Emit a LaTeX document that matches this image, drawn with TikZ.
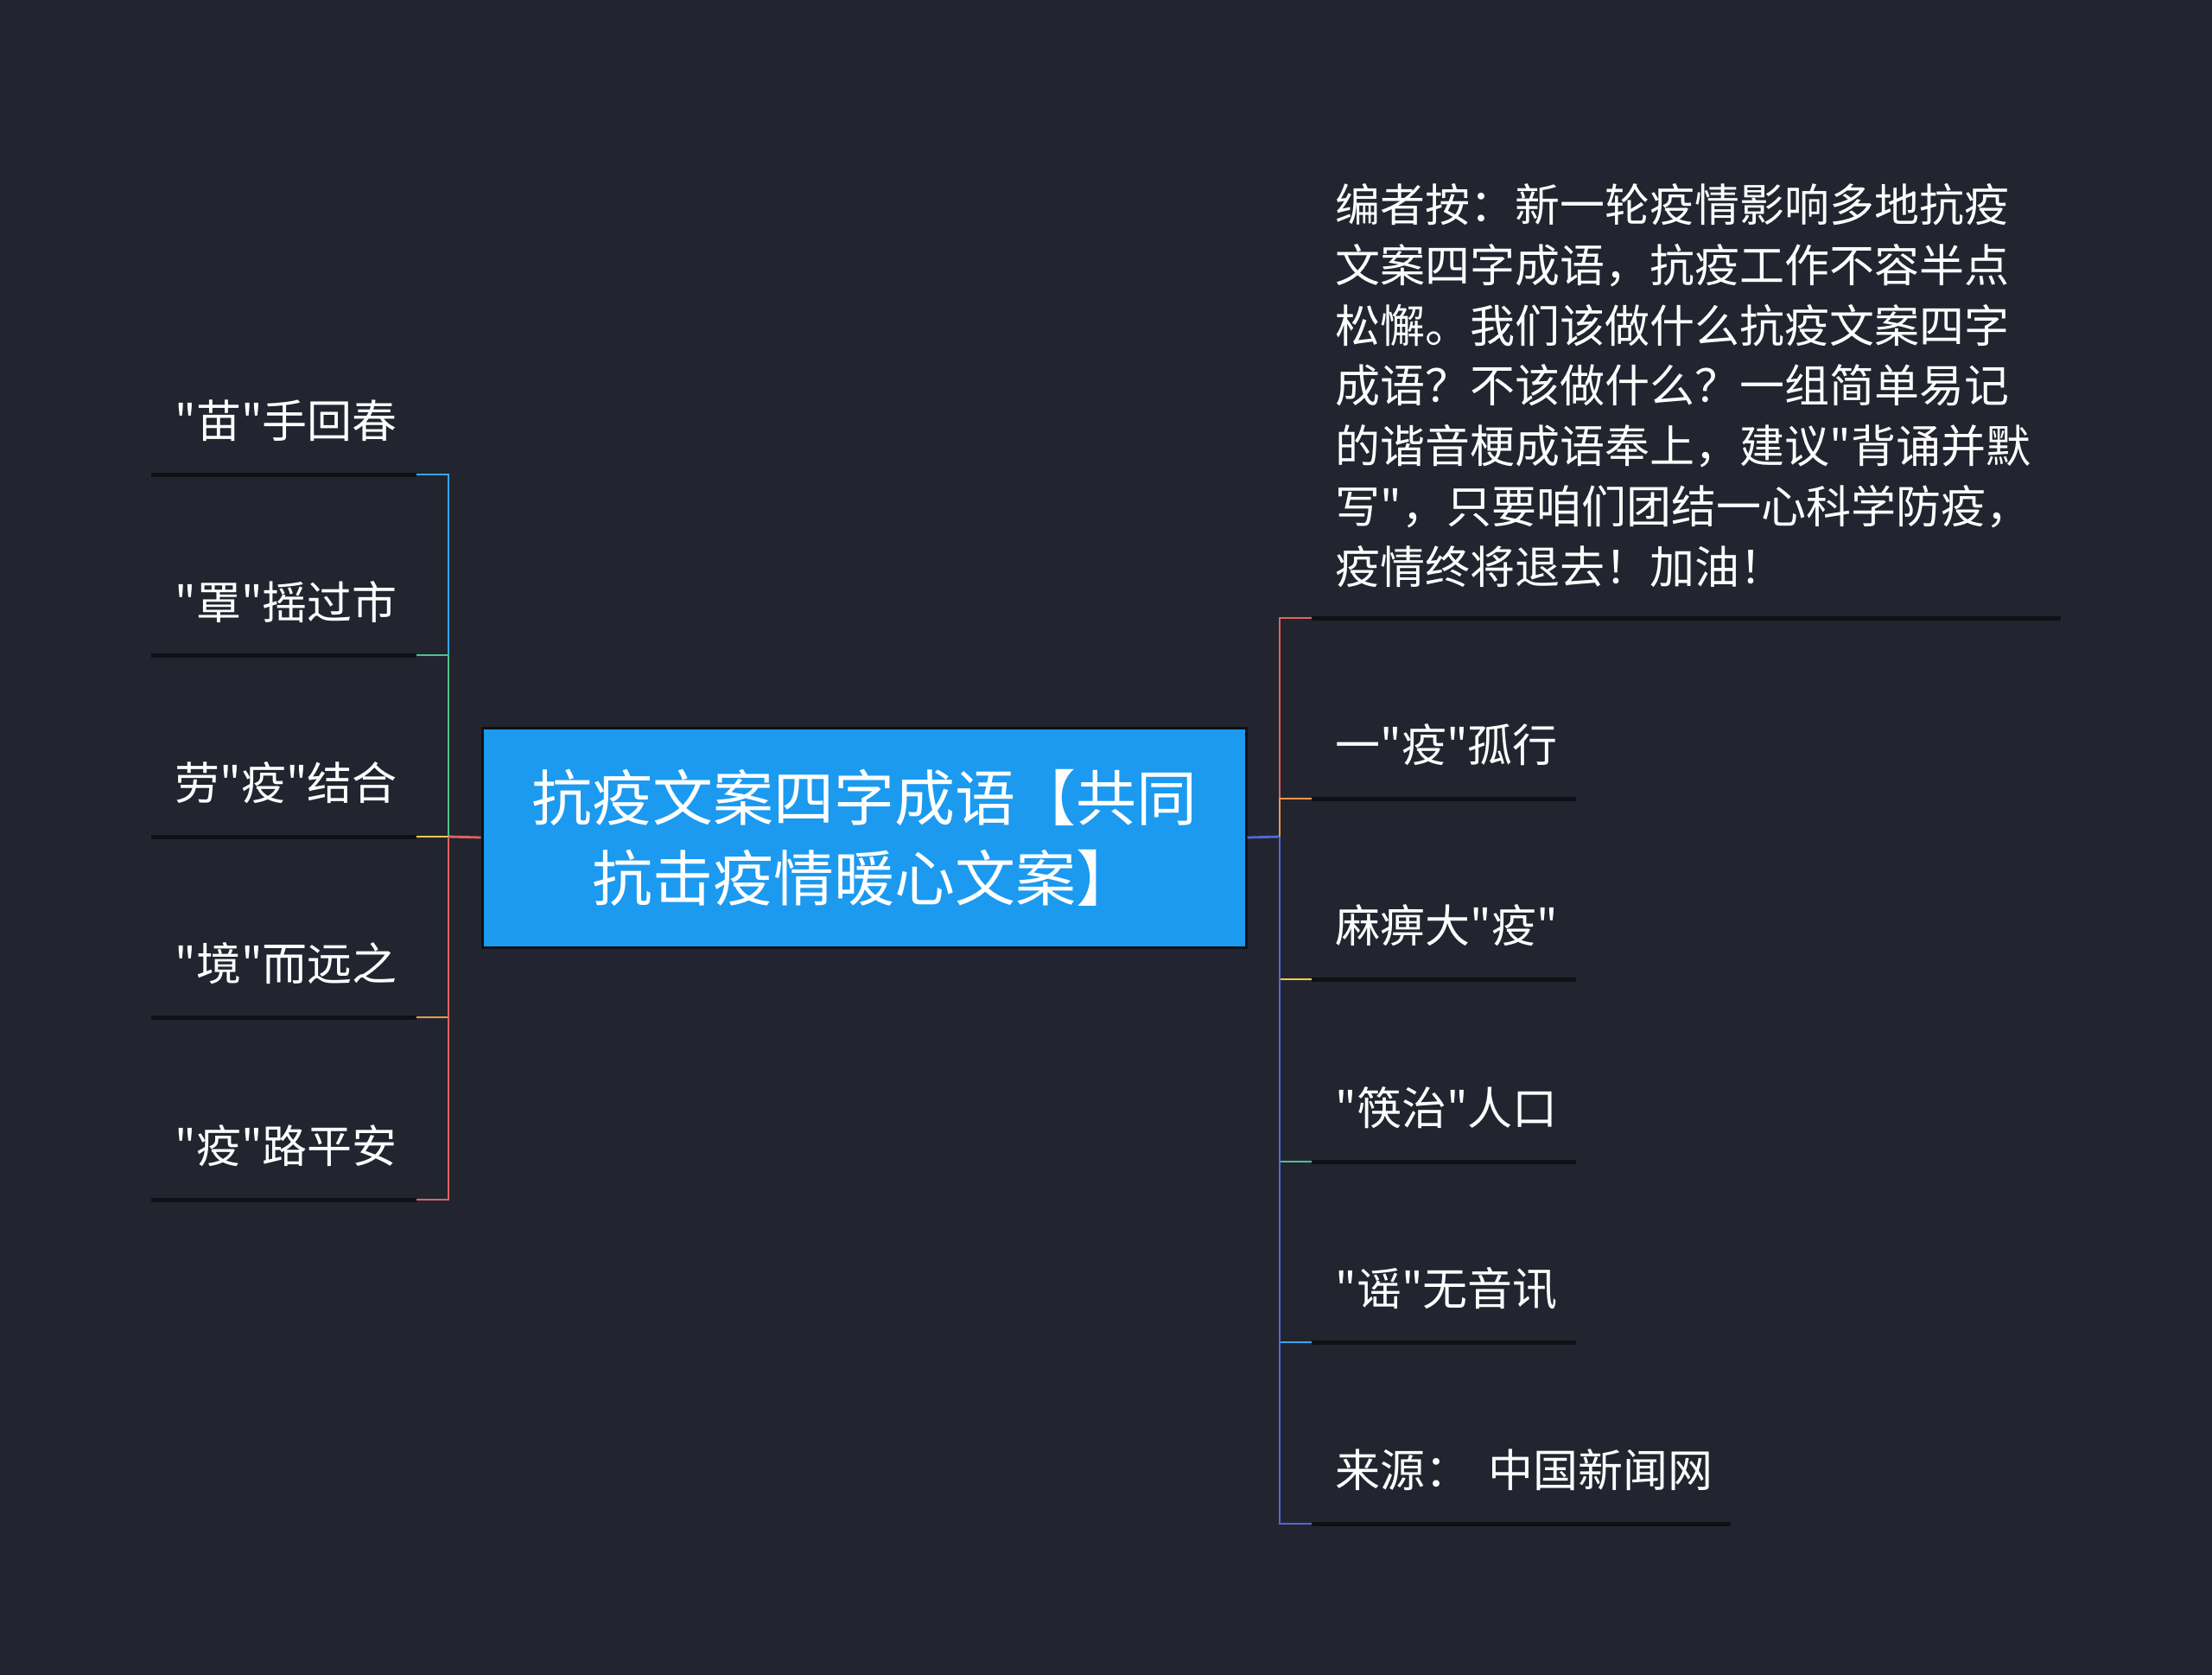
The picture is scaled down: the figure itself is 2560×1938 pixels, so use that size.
\documentclass[tikz,border=0pt]{standalone}
\usepackage{fontspec}
\newfontfamily\cjk{Noto Sans CJK SC}
\definecolor{bg}{HTML}{22252F}
\definecolor{ulc}{HTML}{101114}
\definecolor{rootfill}{HTML}{1B9AF0}
\definecolor{rootline}{HTML}{0E1116}
\definecolor{cRed}{HTML}{E4615F}
\definecolor{cOrange}{HTML}{F0984D}
\definecolor{cYellow}{HTML}{F2C94C}
\definecolor{cGreen}{HTML}{4FC28B}
\definecolor{cBlueL}{HTML}{3AA5EC}
\definecolor{cBlue}{HTML}{5268D4}
\tikzset{
  leaf/.style={anchor=west, inner xsep=13.5pt, inner ysep=0pt, text=white,
    font=\cjk\fontsize{26pt}{34.85pt}\selectfont},
  rootbox/.style={draw=rootline, line width=1.5pt, fill=rootfill, text=white,
    minimum width=442pt, minimum height=127pt, align=center, inner sep=0pt,
    font=\cjk\fontsize{35pt}{46.5pt}\selectfont},
  uline/.style={draw=ulc, line width=2.5pt},
  conn/.style={line width=1.4pt}
}
\begin{document}
\begin{tikzpicture}[x=0.5pt,y=-0.5pt]
\fill[bg] (0,0) rectangle (2560,1938);
\useasboundingbox (0,0) rectangle (2560,1938);

% root
\node[rootbox] (root) at (1000,969) {抗疫文案四字成语【共同\\抗击疫情暖心文案】};

% junctions
\coordinate (lj) at (519,968);
\coordinate (rj) at (1481,968);

% left leaves
\node[leaf] (L1) at (175,487) {"苗"手回春};
\node[leaf] (L2) at (175,696) {"罩"摇过市};
\node[leaf] (L3) at (175,906) {劳"疫"结合};
\node[leaf] (L4) at (175,1115) {"境"而远之};
\node[leaf] (L5) at (175,1326) {"疫"路平安};

\draw[uline] (175,549) coordinate (L1a) -- (482,549) coordinate (L1b);
\draw[uline] (175,758) coordinate (L2a) -- (482,758) coordinate (L2b);
\draw[uline] (175,968) coordinate (L3a) -- (482,968) coordinate (L3b);
\draw[uline] (175,1177) coordinate (L4a) -- (482,1177) coordinate (L4b);
\draw[uline] (175,1388) coordinate (L5a) -- (482,1388) coordinate (L5b);

% right leaves
\node[leaf, align=left] (R1) at (1518,446) {编者按：新一轮疫情影响多地抗疫\\文案四字成语，抗疫工作不容半点\\松懈。我们该做什么抗疫文案四字\\成语？不该做什么？一组简单易记\\的谐音梗成语奉上，建议"背诵并默\\写"，只要咱们团结一心科学防疫，\\疫情终将退去！加油！};
\node[leaf] (R2) at (1518,862) {一"疫"孤行};
\node[leaf] (R3) at (1518,1071) {麻痹大"疫"};
\node[leaf] (R4) at (1518,1282) {"筷治"人口};
\node[leaf] (R5) at (1518,1491) {"谣"无音讯};
\node[leaf] (R6) at (1518,1701) {来源：\hspace{0.4em}中国新闻网};

\draw[uline] (1518,715) coordinate (R1a) -- (2385,715) coordinate (R1b);
\draw[uline] (1518,924) coordinate (R2a) -- (1824,924) coordinate (R2b);
\draw[uline] (1518,1133) coordinate (R3a) -- (1824,1133) coordinate (R3b);
\draw[uline] (1518,1344) coordinate (R4a) -- (1824,1344) coordinate (R4b);
\draw[uline] (1518,1553) coordinate (R5a) -- (1824,1553) coordinate (R5b);
\draw[uline] (1518,1763) coordinate (R6a) -- (2003,1763) coordinate (R6b);

% left connectors
\draw[conn, cRed] (root.west) -- (lj);
\draw[conn, cBlueL] (lj) |- (L1b);
\draw[conn, cGreen] (lj) |- (L2b);
\draw[conn, cYellow] (lj) -- (L3b);
\draw[conn, cOrange] (lj) |- (L4b);
\draw[conn, cRed] (lj) |- (L5b);

% right connectors
\draw[conn, cBlue] (root.east) -- (rj);
\draw[conn, cRed] (rj) |- (R1a);
\draw[conn, cOrange] (rj) |- (R2a);
\draw[conn, cYellow] (rj) |- (R3a);
\draw[conn, cGreen] (rj) |- (R4a);
\draw[conn, cBlueL] (rj) |- (R5a);
\draw[conn, cBlue] (rj) |- (R6a);
\end{tikzpicture}
\end{document}
